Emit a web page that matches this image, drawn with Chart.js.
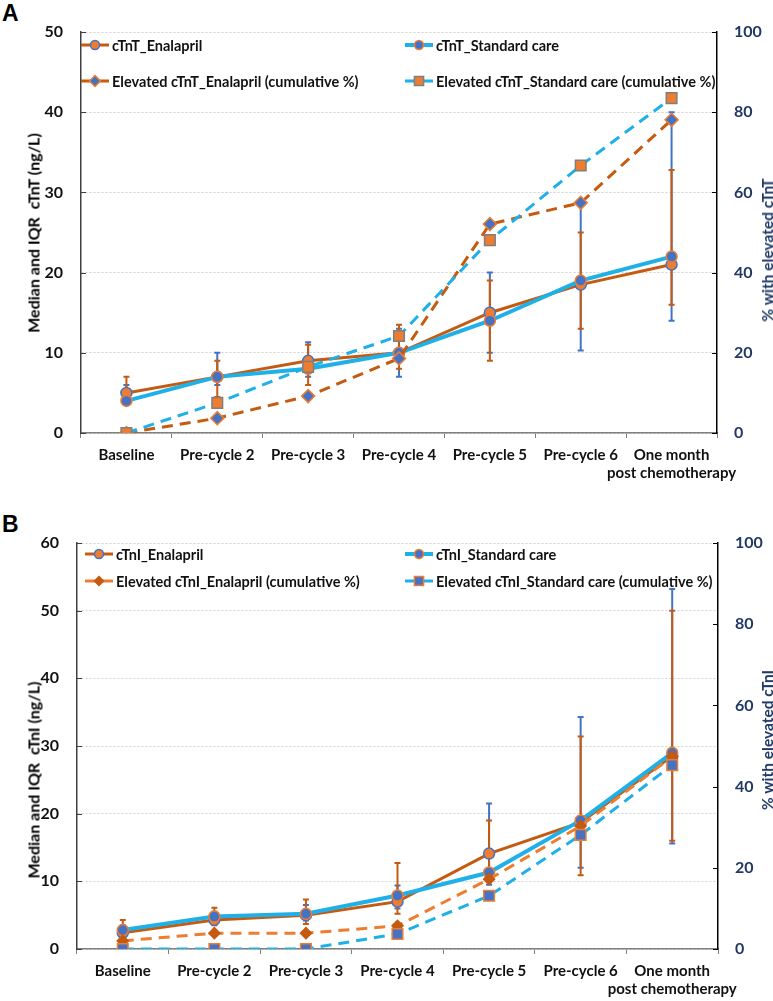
<!DOCTYPE html>
<html>
<head>
<meta charset="utf-8">
<script src="https://cdn.jsdelivr.net/npm/chart.js@4.4.0/dist/chart.umd.min.js"></script>
<style>
  body { margin: 0; background: #fff; width: 773px; height: 1001px; position: relative; overflow: hidden; font-family: Lato, "Open Sans", sans-serif; }
  .panel { position: absolute; left: 0; width: 773px; }
  .letter { position: absolute; font: bold 23px "Liberation Sans", Arial, sans-serif; color: #000; }
  .ytitle { position: absolute; font-weight: bold; font-size: 16px; white-space: pre; transform: translate(-50%, -50%) rotate(-90deg); }
  .ytitle.right { font-size: 15.5px; color: #1F3864; }
</style>
</head>
<body>
<div class="letter" style="left:2px;top:0px">A</div>
<div class="panel" style="top:0;height:495px"><canvas id="chartA" width="773" height="495"></canvas></div>
<div class="ytitle" style="left:33px;top:233px;color:#000">Median and IQR  cTnT (ng/L)</div>
<div class="ytitle right" style="left:767px;top:250px">% with elevated cTnT</div>

<div class="letter" style="left:2px;top:511px">B</div>
<div class="panel" style="top:500px;height:501px"><canvas id="chartB" width="773" height="501"></canvas></div>
<div class="ytitle" style="left:33px;top:780px;color:#000">Median and IQR  cTnI (ng/L)</div>
<div class="ytitle right" style="left:767px;top:740px">% with elevated cTnI</div>

<script>
const categories = ['Baseline', 'Pre-cycle 2', 'Pre-cycle 3', 'Pre-cycle 4', 'Pre-cycle 5', 'Pre-cycle 6', ['One month', 'post chemotherapy']]

// Panel A - cTnT (ng/L) medians and IQR
const tntEnal = [5, 7, 9, 10, 15, 18.5, 21]
const tntEnalLow = [4.5, 4.5, 6, 8, 9, 13, 16]
const tntEnalHigh = [7, 9, 11, 13.5, 19, 25, 32.8]
const tntStd = [4, 7, 8, 10, 14, 19, 22]
const tntStdLow = [3.5, 6, 7, 7, 10, 10.3, 14]
const tntStdHigh = [6, 10, 11.3, 13, 20, 28.7, 40]
// Panel A - elevated cTnT (cumulative %)
const tntEnalPct = [0, 3.7, 9.2, 18.6, 52.1, 57.4, 78.1]
const tntStdPct = [0, 7.5, 16.5, 24.2, 48.1, 66.7, 83.5]

// Panel B - cTnI (ng/L) medians and IQR
const tniEnal = [2.4, 4.3, 5, 7, 14.1, 18.7, 28.5]
const tniEnalLow = [1.5, 3.5, 3.7, 5.2, 11, 10.9, 16]
const tniEnalHigh = [4.3, 6.1, 7.3, 12.7, 19, 31.4, 50]
const tniStd = [2.8, 4.8, 5.2, 7.9, 11.3, 19, 29]
const tniStdLow = [1.8, 3.8, 4.2, 6, 9.5, 12, 15.6]
const tniStdHigh = [3.5, 5.5, 6.5, 9.4, 21.5, 34.3, 53.2]
// Panel B - elevated cTnI (cumulative %)
const tniEnalPct = [2, 3.9, 3.9, 5.7, 17.2, 30.3, 47.4]
const tniStdPct = [0, 0, 0, 3.7, 13.1, 28.1, 45.3]

const leftTicksA = { min: 0, max: 50, step: 10 }
const leftTicksB = { min: 0, max: 60, step: 10 }
const rightTicks = { min: 0, max: 100, step: 20 }

const ORANGE_DARK = '#C55A11'
const ORANGE = '#ED7D31'
const BLUE = '#4472C4'
const CYAN = '#1FB0E8'
const NAVY = '#1F3864'
const FONT = 'Lato, "Open Sans", sans-serif'

// error bars (IQR) drawn under the lines
const errorBarsPlugin = {
    id: 'errorBars',
    beforeDatasetsDraw(chart, args, opts) {
        const { ctx, scales } = chart
        ctx.save()
        opts.bars.forEach(bar => {
            ctx.strokeStyle = bar.color
            ctx.lineWidth = 2
            bar.low.forEach((lo, i) => {
                const x = scales.x.getPixelForValue(i)
                const y1 = scales.y.getPixelForValue(lo)
                const y2 = scales.y.getPixelForValue(bar.high[i])
                ctx.beginPath()
                ctx.moveTo(x, y1); ctx.lineTo(x, y2)
                ctx.moveTo(x - 3, y1); ctx.lineTo(x + 3, y1)
                ctx.moveTo(x - 3, y2); ctx.lineTo(x + 3, y2)
                ctx.stroke()
            })
        })
        ctx.restore()
    }
}

// legend inside the plot area + small inner tick marks on both y axes
const insideLegendPlugin = {
    id: 'insideLegend',
    afterDraw(chart, args, opts) {
        const { ctx, scales } = chart
        ctx.save()
        ctx.lineWidth = 1
        ctx.strokeStyle = '#404040'
        scales.y.ticks.forEach(t => {
            const y = Math.round(scales.y.getPixelForValue(t.value)) + 0.5
            ctx.beginPath(); ctx.moveTo(scales.y.right, y); ctx.lineTo(scales.y.right + 5, y); ctx.stroke()
        })
        ctx.strokeStyle = '#000'
        scales.y1.ticks.forEach(t => {
            const y = Math.round(scales.y1.getPixelForValue(t.value)) + 0.5
            ctx.beginPath(); ctx.moveTo(scales.y1.left - 5, y); ctx.lineTo(scales.y1.left, y); ctx.stroke()
        })
        opts.items.forEach(item => {
            const ds = chart.data.datasets[item.index]
            ctx.strokeStyle = ds.borderColor
            ctx.lineWidth = ds.borderWidth
            ctx.setLineDash(ds.borderDash || [])
            ctx.beginPath()
            ctx.moveTo(item.x, item.y)
            ctx.lineTo(item.x + 28, item.y)
            ctx.stroke()
            ctx.setLineDash([])
            ctx.fillStyle = ds.pointBackgroundColor
            ctx.strokeStyle = ds.pointBorderColor
            ctx.lineWidth = ds.pointBorderWidth
            Chart.helpers.drawPoint(ctx, { pointStyle: ds.pointStyle, radius: ds.pointRadius - 1, rotation: 0, borderWidth: ds.pointBorderWidth }, item.x + 14, item.y)
            ctx.fillStyle = '#111'
            ctx.font = 'bold 14.5px ' + FONT
            ctx.textBaseline = 'middle'
            ctx.textAlign = 'left'
            ctx.fillText(ds.label, item.x + 31, item.y + 1)
        })
        ctx.restore()
    }
}

function lineDataset(label, data, axis, style) {
    return {
        label,
        data,
        yAxisID: axis,
        borderColor: style.line,
        borderWidth: style.width,
        borderDash: style.dash,
        pointStyle: style.point,
        pointRadius: style.radius,
        pointHoverRadius: style.radius,
        pointBackgroundColor: style.fill,
        pointBorderColor: style.border,
        pointBorderWidth: 1.5,
        tension: 0,
        order: style.order
    }
}

function buildChart(canvasId, datasets, bars, legendItems, leftTicks, layout) {
    new Chart(document.getElementById(canvasId), {
        type: 'line',
        data: { labels: categories, datasets },
        options: {
            responsive: false,
            animation: false,
            devicePixelRatio: 1,
            layout: { padding: { top: layout.top, left: 0, right: 0, bottom: 0 } },
            plugins: {
                legend: { display: false },
                tooltip: { enabled: false },
                errorBars: { bars },
                insideLegend: { items: legendItems }
            },
            scales: {
                x: {
                    offset: true,
                    grid: { display: true, offset: true, drawOnChartArea: false, drawTicks: true, tickLength: 5, color: '#7f7f7f' },
                    border: { display: true, color: '#7f7f7f', width: 1.5 },
                    ticks: { color: '#111', font: { family: FONT, size: 15, weight: 'bold' }, padding: 8, maxRotation: 0, autoSkip: false },
                    afterFit: s => { s.height = layout.xHeight }
                },
                y: {
                    position: 'left',
                    min: leftTicks.min,
                    max: leftTicks.max,
                    ticks: { stepSize: leftTicks.step, color: '#111', font: { family: FONT, size: 16, weight: 'bold' }, padding: 18 },
                    grid: { drawTicks: false, color: '#d0d0d0', lineWidth: 1 },
                    border: { display: true, color: '#404040', width: 1.5, dash: [2, 2] },
                    afterFit: s => { s.width = layout.left }
                },
                y1: {
                    position: 'right',
                    min: rightTicks.min,
                    max: rightTicks.max,
                    ticks: { stepSize: rightTicks.step, color: NAVY, font: { family: FONT, size: 16, weight: 'bold' }, padding: 17 },
                    grid: { drawOnChartArea: false, drawTicks: false },
                    border: { display: true, color: '#000', width: 1.5 },
                    afterFit: s => { s.width = layout.right }
                }
            }
        },
        plugins: [errorBarsPlugin, insideLegendPlugin]
    })
}

buildChart('chartA', [
    lineDataset('cTnT_Enalapril', tntEnal, 'y', { line: ORANGE_DARK, width: 3, point: 'circle', radius: 5.5, fill: ORANGE, border: BLUE, order: 4 }),
    lineDataset('cTnT_Standard care', tntStd, 'y', { line: CYAN, width: 4, point: 'circle', radius: 5.5, fill: BLUE, border: ORANGE, order: 3 }),
    lineDataset('Elevated cTnT_Enalapril (cumulative %)', tntEnalPct, 'y1', { line: ORANGE_DARK, width: 3, dash: [11, 7], point: 'rectRot', radius: 6.5, fill: BLUE, border: ORANGE, order: 2 }),
    lineDataset('Elevated cTnT_Standard care (cumulative %)', tntStdPct, 'y1', { line: CYAN, width: 3, dash: [11, 7], point: 'rect', radius: 7.5, fill: ORANGE, border: '#7f7f7f', order: 1 })
], [
    { low: tntStdLow, high: tntStdHigh, color: BLUE },
    { low: tntEnalLow, high: tntEnalHigh, color: ORANGE_DARK }
], [
    { index: 0, x: 81, y: 45 },
    { index: 1, x: 405, y: 45 },
    { index: 2, x: 81, y: 81 },
    { index: 3, x: 405, y: 81 }
], leftTicksA, { top: 32, left: 81, right: 56, xHeight: 62 })

buildChart('chartB', [
    lineDataset('cTnI_Enalapril', tniEnal, 'y', { line: ORANGE_DARK, width: 3, point: 'circle', radius: 5.5, fill: ORANGE, border: BLUE, order: 4 }),
    lineDataset('cTnI_Standard care', tniStd, 'y', { line: CYAN, width: 4, point: 'circle', radius: 5.5, fill: BLUE, border: ORANGE, order: 3 }),
    lineDataset('Elevated cTnI_Enalapril (cumulative %)', tniEnalPct, 'y1', { line: ORANGE, width: 3, dash: [11, 7], point: 'rectRot', radius: 5.5, fill: ORANGE_DARK, border: ORANGE_DARK, order: 2 }),
    lineDataset('Elevated cTnI_Standard care (cumulative %)', tniStdPct, 'y1', { line: CYAN, width: 3, dash: [11, 7], point: 'rect', radius: 7.5, fill: BLUE, border: ORANGE, order: 1 })
], [
    { low: tniStdLow, high: tniStdHigh, color: BLUE },
    { low: tniEnalLow, high: tniEnalHigh, color: ORANGE_DARK }
], [
    { index: 0, x: 85, y: 54 },
    { index: 1, x: 405, y: 54 },
    { index: 2, x: 85, y: 81 },
    { index: 3, x: 405, y: 81 }
], leftTicksB, { top: 43, left: 77, right: 55, xHeight: 52 })
</script>
</body>
</html>
